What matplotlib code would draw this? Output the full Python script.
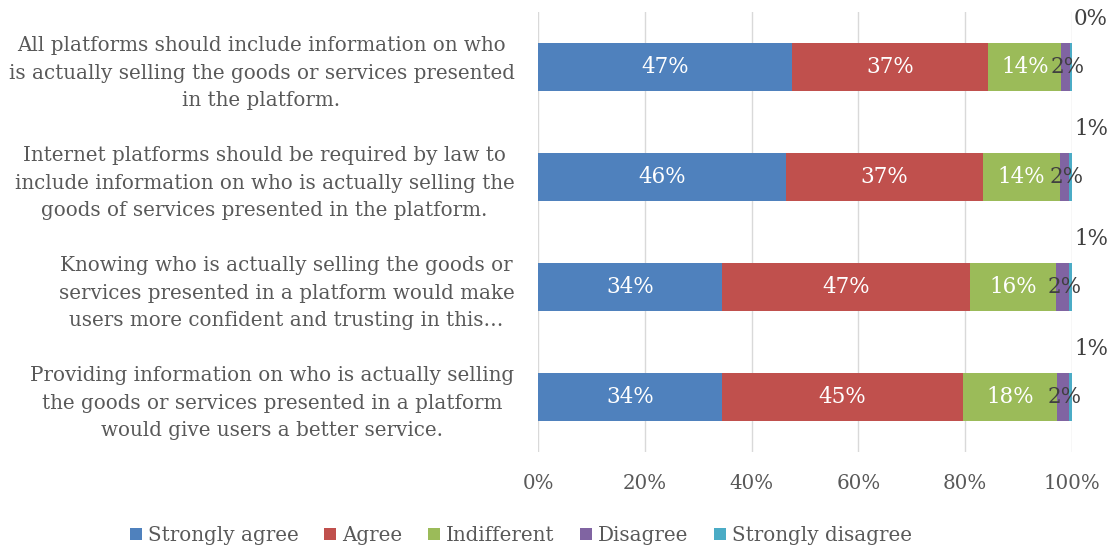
import numpy as np
import matplotlib.pyplot as plt

# survey statements (top to bottom)
questions = [
    "All platforms should include information on who\nis actually selling the goods or services presented\nin the platform.",
    "Internet platforms should be required by law to\ninclude information on who is actually selling the\ngoods of services presented in the platform.",
    "Knowing who is actually selling the goods or\nservices presented in a platform would make\nusers more confident and trusting in this\u2026",
    "Providing information on who is actually selling\nthe goods or services presented in a platform\nwould give users a better service.",
]
responses = ["Strongly agree", "Agree", "Indifferent", "Disagree", "Strongly disagree"]

# shares in percent, one list per response
strongly_agree = [47.6, 46.4, 34.4, 34.4]
agree = [36.7, 36.9, 46.5, 45.1]
indifferent = [13.7, 14.4, 16.1, 17.7]
disagree = [1.6, 1.7, 2.4, 2.2]
strongly_disagree = [0.4, 0.6, 0.6, 0.6]

# labels as printed on the chart
label_sa = ["47%", "46%", "34%", "34%"]
label_a = ["37%", "37%", "47%", "45%"]
label_i = ["14%", "14%", "16%", "18%"]
label_d = ["2%", "2%", "2%", "2%"]
label_sd = ["0%", "1%", "1%", "1%"]

colors = ["#4F81BD", "#C0504D", "#9BBB59", "#8064A2", "#4BACC6"]

plt.rcParams["font.family"] = ["DejaVu Serif"]

fig = plt.figure(figsize=(11.13, 5.48), dpi=100)
ax = fig.add_axes([0.4834, 0.175, 0.4798, 0.803])

series = [strongly_agree, agree, indifferent, disagree, strongly_disagree]
labels = [label_sa, label_a, label_i, label_d, label_sd]
y = np.arange(len(questions))
left = np.zeros(len(questions))

for k, vals in enumerate(series):
    vals = np.array(vals)
    ax.barh(y, vals, left=left, height=0.43, color=colors[k], label=responses[k], zorder=3)
    for i in range(len(questions)):
        if k < 3:
            ax.text(left[i] + vals[i] / 2, y[i], labels[k][i], ha="center", va="center",
                    color="white", fontsize=15.5)
        elif k == 3:
            ax.text(left[i] + vals[i] / 2 + 0.4, y[i], labels[k][i], ha="center", va="center",
                    color="#404040", fontsize=15.5, zorder=4)
        else:
            # tiny "strongly disagree" segment: label sits above the bar end
            ax.annotate(labels[k][i], (left[i] + vals[i], y[i]), xytext=(19, 48),
                        textcoords="offset pixels", ha="center", va="center",
                        color="#404040", fontsize=15.5, annotation_clip=False)
    left += vals

ax.set_xlim(0, 100)
ax.set_ylim(3.5, -0.5)
ax.set_xticks(np.arange(0, 101, 20))
ax.set_xticklabels([f"{v}%" for v in range(0, 101, 20)])
ax.set_yticks(y)
ax.set_yticklabels(questions, multialignment="center", linespacing=1.55)
ax.tick_params(axis="both", length=0, labelsize=14.3, labelcolor="#595959")
ax.tick_params(axis="x", pad=16)
ax.tick_params(axis="y", pad=17)
ax.grid(axis="x", color="#D9D9D9", linewidth=1, zorder=0)
for s in ax.spines.values():
    s.set_visible(False)

fig.legend(loc="lower center", bbox_to_anchor=(0.468, -0.027), ncol=5, frameon=False,
           fontsize=14.3, handlelength=0.6, handleheight=0.6, handletextpad=0.3,
           columnspacing=1.3, labelcolor="#595959")

plt.savefig("out.png", dpi=100)
